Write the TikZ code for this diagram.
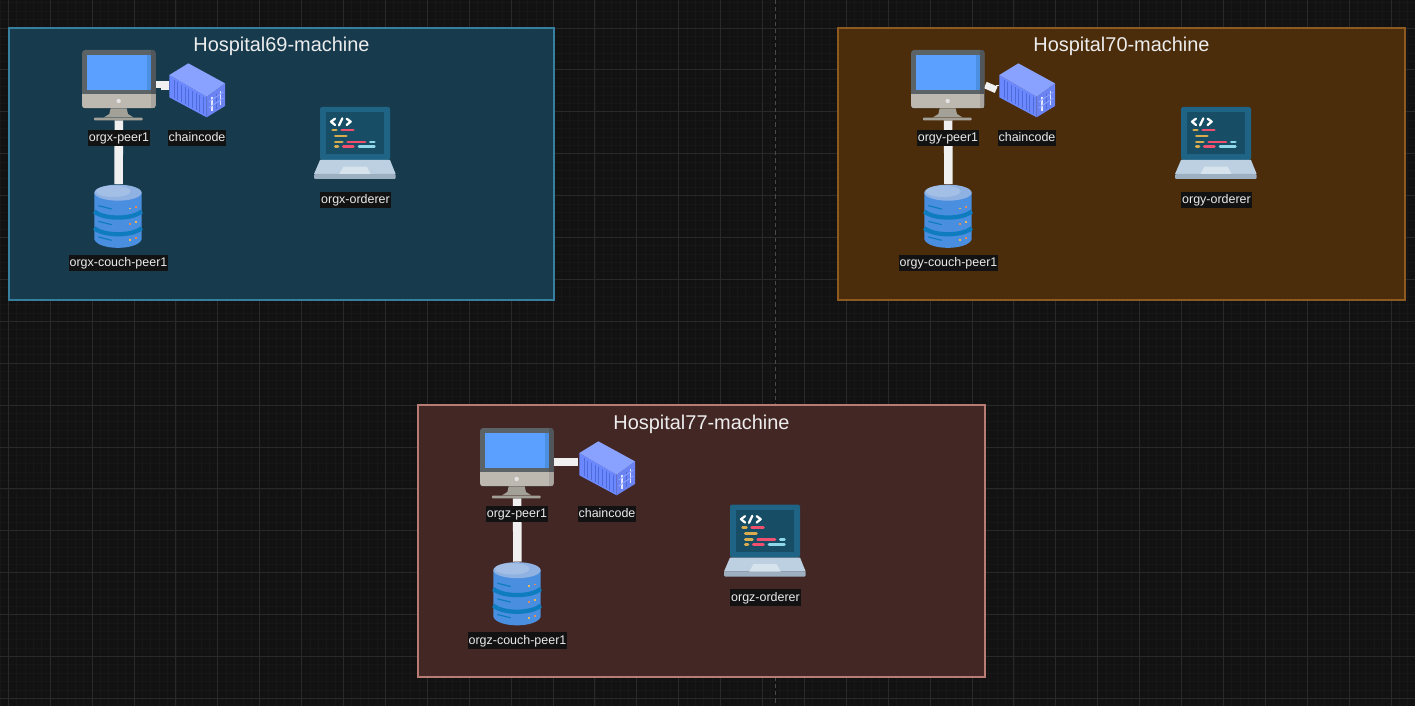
\documentclass[tikz,border=0pt]{standalone}
\usepackage{fontspec}
\setmainfont{Liberation Sans}
\usetikzlibrary{calc}
\definecolor{bgc}{HTML}{121212}
\definecolor{gridmaj}{HTML}{292929}
\definecolor{gridmin}{HTML}{171717}
\definecolor{axisc}{HTML}{4A4A4A}
\definecolor{wirec}{HTML}{F0F0F0}
\tikzset{
  wire/.style={draw=wirec,line width=6.4pt},
  peerbox/.style={inner sep=0pt,minimum width=55.5pt,minimum height=52.5pt},
  ccbox/.style={inner sep=0pt,minimum width=41.8pt,minimum height=40.5pt},
  dbbox/.style={inner sep=0pt,minimum width=35.5pt,minimum height=47.25pt},
  lapbox/.style={inner sep=0pt,minimum width=61pt,minimum height=54pt},
  lbl/.style={fill=bgc,text=white!92!black,font=\fontsize{9.35pt}{11pt}\selectfont,inner xsep=.6pt,inner ysep=1.6pt,text height=7.2pt,text depth=1.9pt},
  machine/.style={line width=.95pt},
  mtitle/.style={text=white!93!black,font=\fontsize{14.95pt}{17pt}\selectfont,inner sep=0pt},
  computerpic/.pic={
    \begin{scope}[shift={(-119,-65)},x=.25pt,y=-.25pt]
      \fill[rounded corners=2.4pt,fill=monframe] (246,90) rectangle (467,265);
      \begin{scope}
        \clip[rounded corners=2.4pt] (246,90) rectangle (467,265);
        \fill[monframedark] (453,90) rectangle (467,222);
        \fill[monbase] (246,222) rectangle (467,265);
        \fill[monbasedark] (452,222) rectangle (467,265);
      \end{scope}
      \fill[monscreen] (260,104) rectangle (453,210);
      \fill[monscreendark] (440,104) rectangle (453,210);
      \fill[monstand] (332,265) -- (380,265) -- (384,282) -- (400,292) -- (312,292) -- (328,282) -- cycle;
      \fill[monstand,rounded corners=.6pt] (282,293) rectangle (428,301);
      \fill[white!90!black] (356,243) circle[radius=6.5];
    \end{scope}
  },
  containerpic/.pic={
    \begin{scope}[shift={(-197,-70)},x=.25pt,y=-.25pt]
      \fill[ccside] (508,165) -- (620,230) -- (620,292) -- (508,232) -- cycle;
      \fill[ccend] (620,230) -- (675,190) -- (675,258) -- (620,292) -- cycle;
      \fill[ccroof] (508,165) -- (565,130) -- (675,190) -- (620,230) -- cycle;
      \foreach \k in {522,533,...,610}
        \draw[ccrib,line width=.55pt] (\k,{165+(\k-508)*.58+8}) -- (\k,{232+(\k-508)*.54-6});
      \draw[white!80!ccside,line width=.8pt] (636,232) -- (636,274);
      \draw[white!80!ccside,line width=.8pt] (661,214) -- (661,256);
      \draw[ccrib,line width=.6pt] (648,222) -- (648,266);
      \draw[ccroof,line width=.7pt] (626,246) -- (670,216) (626,264) -- (670,234);
    \end{scope}
  },
  dbpic/.pic={
    \begin{scope}[shift={(-58.5,-66)},x=.25pt,y=-.25pt]
      \fill[dbbody] (103,128) -- (103,268) .. controls (115,302) and (233,302) .. (245,268) -- (245,128) -- cycle;
      \draw[dbband,line width=3.2pt] (103,184) .. controls (130,209) and (218,209) .. (245,184);
      \draw[dbband,line width=3.2pt] (103,234) .. controls (130,259) and (218,259) .. (245,234);
      \fill[dbtop] (174,128) ellipse[x radius=71,y radius=24];
      \fill[dbtoplight] (160,124) ellipse[x radius=52,y radius=17];
      \draw[dbband,line width=.9pt] (115,167) -- (155,177);
      \draw[dbband,line width=.9pt] (115,214) -- (155,224);
      \draw[dbband,line width=.9pt] (115,261) -- (155,271);
      \fill[dbyel] (207,173) rectangle (213,177);
      \fill[dbora] (225,168) rectangle (230,173);
      \fill[dbora] (207,220) rectangle (212,225);
      \fill[dbyel] (225,214) rectangle (230,219);
      \fill[dbyel] (207,268) rectangle (212,273);
      \fill[dbora] (225,262) rectangle (230,267);
    \end{scope}
  },
  laptoppic/.pic={
    \begin{scope}[shift={(-55,-48)},x=.25pt,y=-.25pt]
      \fill[lapouter,rounded corners=1.2pt] (60,36) -- (270,36) -- (270,195) -- (60,195) -- cycle;
      \fill[lapinner] (78,52) rectangle (252,177);
      \draw[white,line width=1.7pt,line cap=round,line join=round] (105,71) -- (93,80) -- (105,90) (117,91) -- (127,70) (140,71) -- (152,80) -- (140,90);
      \begin{scope}[line width=2.1pt,line cap=round]
        \draw[lapgold] (98,105) -- (109,105) (106,123) -- (139,123) (106,141) -- (127,141) (106,155) -- (114,155);
        \draw[lapred] (125,105) -- (160,105) (143,141) -- (195,141) (130,155) -- (160,155);
        \draw[lapcyan] (211,141) -- (223,141) (177,155) -- (223,155);
      \end{scope}
      \fill[lapbase] (60,195) -- (270,195) -- (287,237) -- (42,237) -- cycle;
      \fill[lapstrip,rounded corners=.8pt] (42,237) rectangle (287,252);
      \fill[lappad] (130,215) -- (200,215) -- (212,237) -- (118,237) -- cycle;
    \end{scope}
  }
}
\definecolor{monframe}{HTML}{5C6367}
\definecolor{monframedark}{HTML}{50565A}
\definecolor{monscreen}{HTML}{5B9FFF}
\definecolor{monscreendark}{HTML}{4A8FE0}
\definecolor{monbase}{HTML}{BDB9B1}
\definecolor{monbasedark}{HTML}{A9A59E}
\definecolor{monstand}{HTML}{A3A097}
\definecolor{ccside}{HTML}{6C88FF}
\definecolor{ccend}{HTML}{6A82F2}
\definecolor{ccroof}{HTML}{8AA2FF}
\definecolor{ccrib}{HTML}{4F6BD8}
\definecolor{dbbody}{HTML}{4A8EE0}
\definecolor{dbband}{HTML}{0E7CBF}
\definecolor{dbtop}{HTML}{8FB2E2}
\definecolor{dbtoplight}{HTML}{A3BFE6}
\definecolor{dbyel}{HTML}{E8B95A}
\definecolor{dbora}{HTML}{E58A5A}
\definecolor{lapouter}{HTML}{1F6485}
\definecolor{lapinner}{HTML}{174E66}
\definecolor{lapgold}{HTML}{D8AB4E}
\definecolor{lapred}{HTML}{F0506E}
\definecolor{lapcyan}{HTML}{8ED8EA}
\definecolor{lapbase}{HTML}{BCD0E2}
\definecolor{lapstrip}{HTML}{9DB0C2}
\definecolor{lappad}{HTML}{D6E2EC}
\definecolor{hxf}{HTML}{173B4D}\definecolor{hxd}{HTML}{367F9F}
\definecolor{hyf}{HTML}{4B2C0B}\definecolor{hyd}{HTML}{8F5A1F}
\definecolor{hzf}{HTML}{432725}\definecolor{hzd}{HTML}{B87C75}
% #1 tag, #2 org, #3 peer, #4 container, #5 db, #6 laptop, #7 link to container, #8 #9 label offsets
\newcommand{\hostgroup}[9]{
  \node[peerbox] (#1peer) at (#3) {};
  \node[ccbox] (#1cc) at (#4) {};
  \node[dbbox] (#1db) at (#5) {};
  \node[lapbox] (#1lap) at (#6) {};
  \draw[wire] (#1peer) -- (#1db);
  #7
  \pic at (#1peer) {computerpic};
  \pic at (#1cc) {containerpic};
  \pic at (#1db) {dbpic};
  \pic at (#1lap) {laptoppic};
  \node[lbl] (#1peerl) at ($(#1peer)+(0,#8)$) {#2-peer1};
  \node[lbl] (#1ccl) at ($(#1cc)+(0,#9)$) {chaincode};
  \node[lbl] (#1dbl) at ($(#1db)+(0,47)$) {#2-couch-peer1};
  \node[lbl] (#1lapl) at ($(#1lap)+(0.5,57)$) {#2-orderer};
}
\begin{document}
\begin{tikzpicture}[x=.75pt,y=-.75pt]
\useasboundingbox (0,0) rectangle (1415,706);
\fill[bgc] (0,0) rectangle (1415,706);
\foreach \k in {0,...,169}{
  \draw[gridmin,line width=.6pt] ({8.3+8.38*\k-8.38},0) -- ({8.3+8.38*\k-8.38},706);
}
\foreach \k in {0,...,84}{
  \draw[gridmin,line width=.6pt] (0,{28+8.38*\k-8.38*3}) -- (1415,{28+8.38*\k-8.38*3});
}
\foreach \k in {0,...,33}{
  \draw[gridmaj,line width=.7pt] ({8.3+41.9*\k},0) -- ({8.3+41.9*\k},706);
}
\foreach \k in {0,...,16}{
  \draw[gridmaj,line width=.7pt] (0,{28+41.9*\k}) -- (1415,{28+41.9*\k});
}
\draw[axisc,line width=.8pt,dash pattern=on 3.2pt off 2.2pt] (775.3,0) -- (775.3,706);
% machines
\node[machine,draw=hxd,fill=hxf,minimum width=408.75pt,minimum height=204pt,inner sep=0pt] (hx) at (281.5,164) {};
\node[machine,draw=hyd,fill=hyf,minimum width=425.25pt,minimum height=204pt,inner sep=0pt] (hy) at (1121.5,164) {};
\node[machine,draw=hzd,fill=hzf,minimum width=425.25pt,minimum height=204pt,inner sep=0pt] (hz) at (701.5,541) {};
\node[mtitle] (hxt) at (281.5,46.5) {Hospital69-machine};
\node[mtitle] (hyt) at (1121.5,46.5) {Hospital70-machine};
\node[mtitle] (hzt) at (701.5,424) {Hospital77-machine};
\hostgroup{x}{orgx}{119,85}{197,90}{118.5,216}{355,143}{
  \coordinate (xstep) at (161,84.5);
  \coordinate (xstepb) at (161,85.6);
  \draw[wire,line width=5.6pt] (xstep -| xpeer.east) -- (xstep);
  \draw[wire,line width=6.8pt] (xstepb) -- (xstepb -| xcc.west);
}{53}{48}
\hostgroup{y}{orgy}{948,85}{1027,90}{948.5,216}{1216,143}{
  \coordinate (ybend) at (996.2,89.8);
  \coordinate (ytip) at (996.2,86);
  \draw[wire,line width=5.2pt] (ypeer.east) -- (ybend);
  \draw[wire,line width=.75pt] (ytip) -- (ytip -| ycc.west);
}{53}{48}
\hostgroup{z}{orgz}{517,463}{607,468}{517.5,593.5}{765,540.5}{
  \coordinate (zend) at (578,462);
  \draw[wire,line width=5.8pt] (zend -| zpeer.east) -- (zend);
}{51}{46}
\end{tikzpicture}
\end{document}
